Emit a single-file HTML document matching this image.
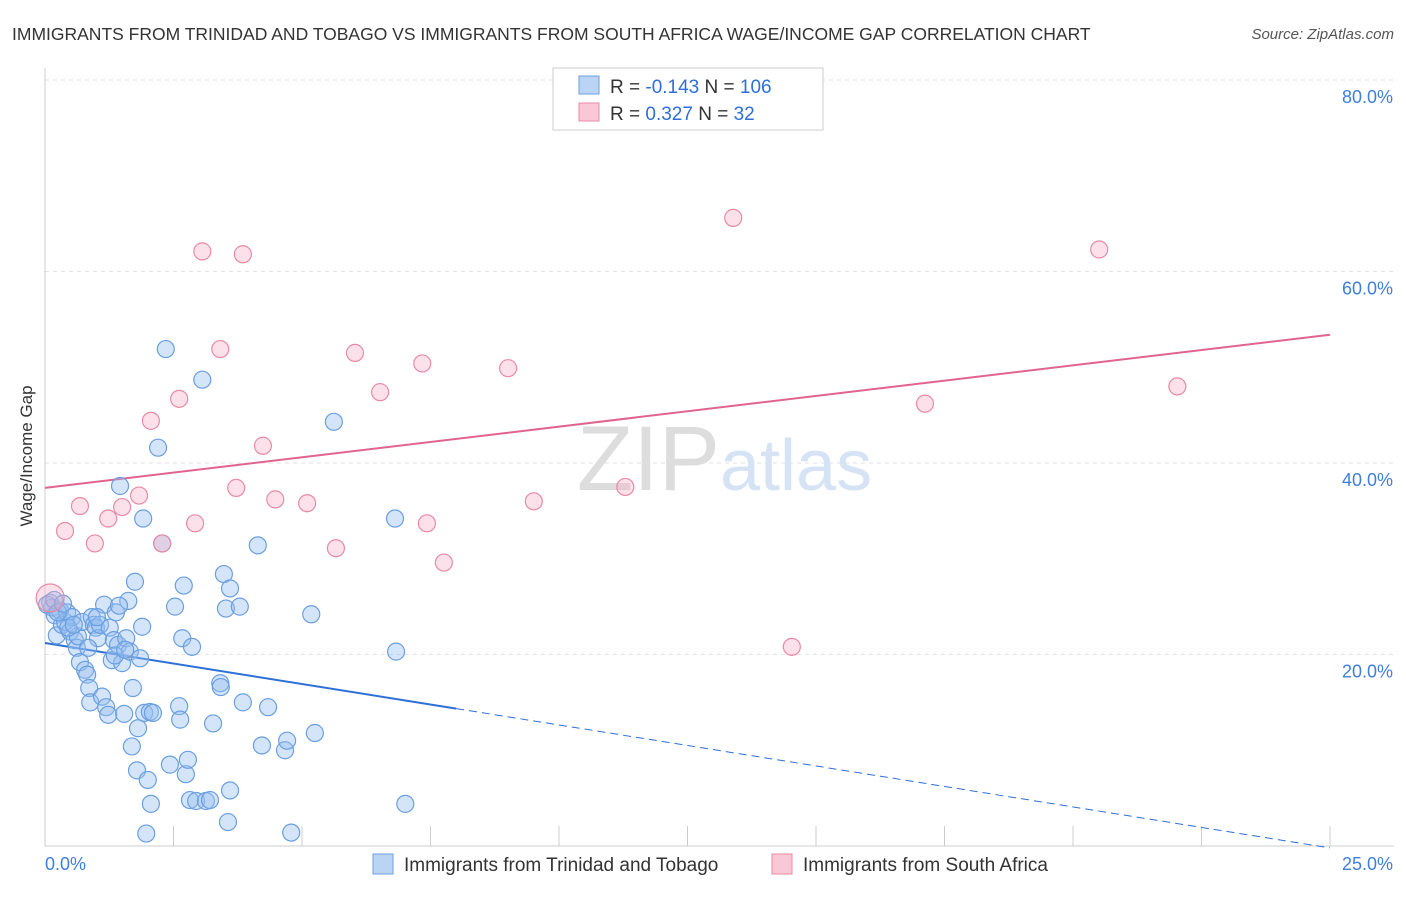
<!DOCTYPE html>
<html><head><meta charset="utf-8"><style>
body{margin:0;background:#fff;font-family:"Liberation Sans",sans-serif;}
svg text{font-family:"Liberation Sans",sans-serif;}
</style></head><body>
<svg width="1406" height="892" viewBox="0 0 1406 892" xmlns="http://www.w3.org/2000/svg">
<text x="12" y="40" font-size="17.5" fill="#333">IMMIGRANTS FROM TRINIDAD AND TOBAGO VS IMMIGRANTS FROM SOUTH AFRICA WAGE/INCOME GAP CORRELATION CHART</text>
<text x="1394" y="39" font-size="15" fill="#555" font-style="italic" text-anchor="end">Source: ZipAtlas.com</text>
<g id="grid"></g>
<text x="720" y="490" font-size="92" fill="#ddd" text-anchor="end" font-family="Liberation Serif">ZIP</text>
<text x="720" y="490" font-size="72" fill="#d5e3f5">atlas</text>
<g id="lines"></g>
<g id="pts"></g>
<text x="32" y="456" font-size="17" fill="#333" text-anchor="middle" transform="rotate(-90 32 456)">Wage/Income Gap</text>
<g id="ticks"></g>
<g>
<rect x="553" y="68" width="270" height="62" fill="#fff" stroke="#ccc"/>
<rect x="579" y="76" width="20" height="18" fill="#bcd4f4" stroke="#6a9fe0"/>
<rect x="579" y="103" width="20" height="18" fill="#f8c8d6" stroke="#e88aa5"/>
<text x="610" y="93" font-size="19" fill="#333">R = <tspan fill="#2e6fd8">-0.143</tspan>   N = <tspan fill="#2e6fd8">106</tspan></text>
<text x="610" y="120" font-size="19" fill="#333">R =  <tspan fill="#2e6fd8">0.327</tspan>   N =   <tspan fill="#2e6fd8">32</tspan></text>
</g>
<g>
<rect x="373" y="854" width="20" height="20" fill="#bcd4f4" stroke="#6a9fe0"/>
<text x="404" y="871" font-size="19" fill="#333">Immigrants from Trinidad and Tobago</text>
<rect x="772" y="854" width="20" height="20" fill="#f8c8d6" stroke="#e88aa5"/>
<text x="803" y="871" font-size="19" fill="#333">Immigrants from South Africa</text>
</g>
</svg>
<script>
const xTicks=[0,2.5,5,7.5,10,12.5,15,17.5,20,22.5,25];
const yTicks=[20,40,60,80];
const yTickLabels=["20.0%","40.0%","60.0%","80.0%"];
const xEndLabels=["0.0%","25.0%"];
const blueX=[0.10,0.14,0.19,0.23,0.29,0.33,0.39,0.43,0.49,0.53,0.58,0.62,0.64,0.68,0.72,0.78,0.82,0.86,0.88,0.91,0.95,0.99,1.03,1.07,1.11,1.15,1.19,1.23,1.26,1.30,1.34,1.38,1.42,1.46,1.50,1.54,1.58,1.62,1.65,1.69,1.71,1.75,1.79,1.81,1.85,1.89,1.91,1.93,1.97,2.00,2.04,2.06,2.10,2.20,2.28,2.35,2.43,2.53,2.61,2.63,2.67,2.70,2.74,2.78,2.82,2.86,2.94,3.06,3.13,3.21,3.27,3.41,3.42,3.48,3.52,3.56,3.60,3.60,3.79,3.85,4.14,4.22,4.34,4.67,4.71,4.79,5.18,5.25,5.62,6.81,6.83,7.01,0.04,0.18,0.25,0.35,0.45,0.56,0.84,1.01,1.36,1.56,1.44];
const blueY=[25.4,24.9,24.1,22.0,24.6,23.1,23.4,24.4,22.4,23.9,21.5,20.7,21.9,19.2,23.4,18.4,17.9,16.5,15.0,23.9,23.1,22.8,21.7,23.1,15.6,25.2,14.5,13.7,22.8,19.4,21.5,24.4,21.0,37.6,19.1,13.8,21.7,25.6,20.3,10.4,16.5,27.6,7.9,12.3,19.6,22.9,34.2,13.9,1.3,6.9,14.0,4.4,13.9,41.6,31.6,51.9,8.5,25.0,14.6,13.2,21.7,27.2,7.5,9.0,4.8,20.8,4.7,48.7,4.7,4.8,12.8,17.0,16.6,28.4,24.8,2.5,5.8,26.9,25.0,15.0,31.4,10.5,14.5,10.0,11.0,1.4,24.2,11.8,44.3,34.2,20.3,4.4,25.2,25.7,24.4,25.3,22.8,23.1,20.7,23.9,19.9,20.5,25.1];
const pinkX=[0.10,0.39,0.68,0.97,1.23,1.50,1.83,2.06,2.28,2.61,2.92,3.06,3.41,3.72,3.85,4.24,4.48,5.10,5.66,6.03,6.52,7.34,7.43,7.76,9.01,9.51,11.29,13.39,14.53,17.12,20.51,22.03];
const pinkY=[25.9,32.9,35.5,31.6,34.2,35.4,36.6,44.4,31.6,46.7,33.7,62.1,51.9,37.4,61.8,41.8,36.2,35.8,31.1,51.5,47.4,50.4,33.7,29.6,49.9,36.0,37.5,65.6,20.8,46.2,62.3,48.0];
const blueTrend=[21.2,-0.856,8.0];
const pinkTrend=[37.4,0.64];
const NS="http://www.w3.org/2000/svg";
const X=v=>45+v/25*1285, Y=v=>846-v*9.575;
function mk(tag,attrs,parent){const e=document.createElementNS(NS,tag);for(const k in attrs)e.setAttribute(k,attrs[k]);parent.appendChild(e);return e;}
const grid=document.getElementById('grid'),ticks=document.getElementById('ticks'),pts=document.getElementById('pts'),lines=document.getElementById('lines');
yTicks.forEach((t,i)=>{const l=mk('line',{x1:45,x2:1394,y1:Y(t),y2:Y(t),stroke:'#e2e2e2','stroke-dasharray':'4,4'},grid);


const tx=mk('text',{x:1393,y:Y(t)+23,'font-size':18,fill:'#3f7fdc','text-anchor':'end'},ticks);tx.textContent=yTickLabels[i];

});
mk('line',{x1:45,x2:1394,y1:Y(80),y2:Y(80),stroke:'#e2e2e2','stroke-dasharray':'4,4'},grid);
mk('line',{x1:45,x2:45,y1:68,y2:846,stroke:'#ccc'},grid);
mk('line',{x1:45,x2:1394,y1:846,y2:846,stroke:'#ccc'},grid);
xTicks.forEach(t=>{const l=mk('line',{x1:X(t),x2:X(t),y1:826,y2:846,stroke:'#ccc'},grid);

});
let a=mk('text',{x:45,y:870,'font-size':18,fill:'#3f7fdc'},ticks);a.textContent=xEndLabels[0];


a=mk('text',{x:1393,y:870,'font-size':18,fill:'#3f7fdc','text-anchor':'end'},ticks);a.textContent=xEndLabels[1];


blueX.forEach((x,i)=>{const c=mk('circle',{cx:X(x),cy:Y(blueY[i]),r:8.5,fill:'rgba(150,190,240,0.4)',stroke:'#6a9fe0','stroke-width':1.2},pts);

});
pinkX.forEach((x,i)=>{const c=mk('circle',{cx:X(x),cy:Y(pinkY[i]),r:i==0?14:8.5,fill:'rgba(245,170,195,0.35)',stroke:'#e88aa5','stroke-width':1.2},pts);

});
const bY=x=>blueTrend[0]+blueTrend[1]*x;
let ln=mk('line',{x1:X(0),y1:Y(bY(0)),x2:X(blueTrend[2]),y2:Y(bY(blueTrend[2])),stroke:'#2e6fd8','stroke-width':2},lines);


ln=mk('line',{x1:X(blueTrend[2]),y1:Y(bY(blueTrend[2])),x2:X(25),y2:Y(bY(25)),stroke:'#2e6fd8','stroke-width':1,'stroke-dasharray':'8,5'},lines);


const pY=x=>pinkTrend[0]+pinkTrend[1]*x;
ln=mk('line',{x1:X(0),y1:Y(pY(0)),x2:X(25),y2:Y(pY(25)),stroke:'#e0648e','stroke-width':2},lines);


</script>
</body></html>
